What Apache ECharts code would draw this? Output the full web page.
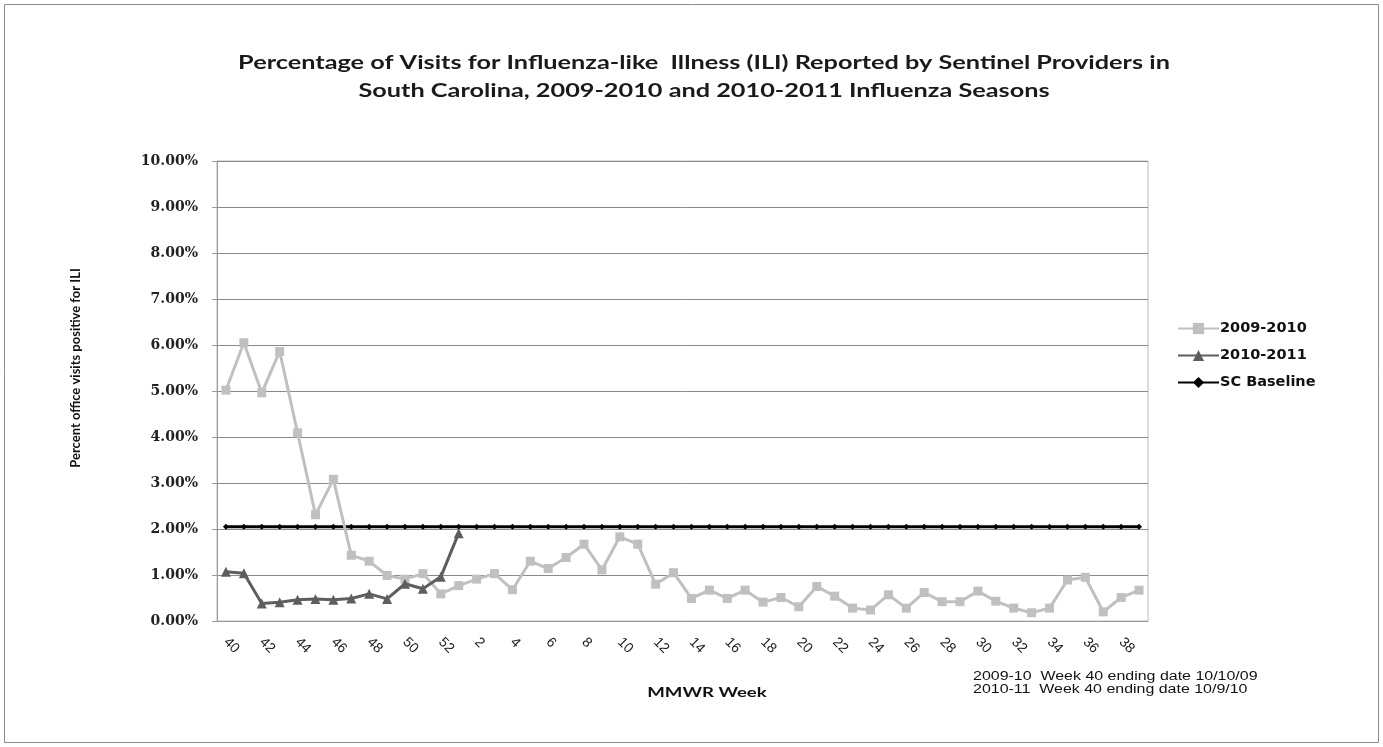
<!DOCTYPE html>
<html>
<head>
<meta charset="utf-8">
<script src="https://cdn.jsdelivr.net/npm/echarts@6/dist/echarts.min.js"></script>
<style>
html,body{margin:0;padding:0;background:#fff;}
#chart{width:1383px;height:747px;}
</style>
</head>
<body>
<div id="chart"></div>
<script>
const weeks = ['40','41','42','43','44','45','46','47','48','49','50','51','52',
  '1','2','3','4','5','6','7','8','9','10','11','12','13','14','15','16','17','18','19','20',
  '21','22','23','24','25','26','27','28','29','30','31','32','33','34','35','36','37','38','39'];
const season0910 = [5.02,6.05,4.96,5.86,4.09,2.31,3.08,1.43,1.30,0.99,0.91,1.03,0.59,
  0.77,0.91,1.03,0.68,1.30,1.14,1.38,1.67,1.11,1.83,1.67,0.80,1.05,0.49,0.67,0.49,0.67,0.41,0.51,0.31,
  0.75,0.54,0.28,0.24,0.57,0.28,0.62,0.42,0.42,0.65,0.43,0.28,0.18,0.28,0.89,0.95,0.20,0.51,0.67];
const season1011 = [1.07,1.04,0.38,0.41,0.46,0.48,0.46,0.49,0.59,0.48,0.81,0.70,0.96,1.91];
const scBaseline = [2.05,2.05,2.05,2.05,2.05,2.05,2.05,2.05,2.05,2.05,2.05,2.05,2.05,
  2.05,2.05,2.05,2.05,2.05,2.05,2.05,2.05,2.05,2.05,2.05,2.05,2.05,2.05,2.05,2.05,2.05,2.05,2.05,2.05,
  2.05,2.05,2.05,2.05,2.05,2.05,2.05,2.05,2.05,2.05,2.05,2.05,2.05,2.05,2.05,2.05,2.05,2.05,2.05];
const titleLines = ['Percentage of Visits for Influenza-like  Illness (ILI) Reported by Sentinel Providers in',
  'South Carolina, 2009-2010 and 2010-2011 Influenza Seasons'];
const noteLines = ['2009-10  Week 40 ending date 10/10/09', '2010-11  Week 40 ending date 10/9/10'];
const yAxisName = 'Percent office visits positive for ILI';
const xAxisName = 'MMWR Week';

const STRETCH = 1.33;
const chart = echarts.init(document.getElementById('chart'));
chart.setOption({
  animation: false,
  backgroundColor: '#fff',
  grid: {left: 217, right: 235, top: 161, bottom: 126, show: true, borderColor: '#bdbdbd', borderWidth: 1},
  legend: {
    orient: 'vertical', left: 1172, top: 316, itemWidth: 41, itemHeight: 14, itemGap: 12,
    textStyle: {fontFamily: 'DejaVu Sans', fontWeight: 'bold', fontSize: 14.5, color: '#111', padding: [0,0,0,-4]},
    data: ['2009-2010','2010-2011','SC Baseline']
  },
  xAxis: {
    type: 'category', data: weeks, boundaryGap: true,
    axisLine: {lineStyle: {color: '#9a9a9a', width: 1}},
    axisTick: {interval: 1, length: 5, lineStyle: {color: '#9a9a9a'}},
    axisLabel: {interval: 1, rotate: -45, margin: 19, fontFamily: 'Liberation Sans', fontSize: 14, color: '#222'},
    splitLine: {show: false}
  },
  yAxis: {
    type: 'value', min: 0, max: 10, interval: 1,
    axisLine: {show: true, lineStyle: {color: '#9a9a9a'}},
    axisTick: {show: true, length: 5, lineStyle: {color: '#9a9a9a'}},
    axisLabel: {formatter: v => v.toFixed(2) + '%', margin: 19, fontFamily: 'DejaVu Serif', fontWeight: 'bold', fontSize: 14, color: '#222'},
    splitLine: {lineStyle: {color: '#8a8a8a', width: 1}}
  },
  series: [
    {name: '2009-2010', type: 'line', data: season0910, symbol: 'rect', symbolSize: 9,
      lineStyle: {color: '#c0c0c0', width: 3}, itemStyle: {color: '#c0c0c0'}, z: 3},
    {name: '2010-2011', type: 'line', data: season1011, symbol: 'triangle', symbolSize: 10,
      lineStyle: {color: '#5e5e5e', width: 3}, itemStyle: {color: '#5e5e5e'}, z: 4},
    {name: 'SC Baseline', type: 'line', data: scBaseline, symbol: 'diamond', symbolSize: 6,
      lineStyle: {color: '#000', width: 3}, itemStyle: {color: '#000'}, z: 2}
  ],
  graphic: [
    {type: 'rect', shape: {x: 4.5, y: 4.5, width: 1374, height: 738}, style: {fill: 'none', stroke: '#8c8c8c', lineWidth: 1}, silent: true},
    {type: 'text', x: 704, y: 63, scaleX: STRETCH,
      style: {text: titleLines[0], fontFamily: 'Lato', fontWeight: 'bold', fontSize: 19, fill: '#1a1a1a', align: 'center', verticalAlign: 'middle'}},
    {type: 'text', x: 704, y: 91, scaleX: STRETCH,
      style: {text: titleLines[1], fontFamily: 'Lato', fontWeight: 'bold', fontSize: 19, fill: '#1a1a1a', align: 'center', verticalAlign: 'middle'}},
    {type: 'text', x: 76, y: 368, rotation: Math.PI / 2,
      style: {text: yAxisName, fontFamily: 'Lato', fontWeight: 'bold', fontSize: 13, fill: '#111', align: 'center', verticalAlign: 'middle'}},
    {type: 'text', x: 707, y: 692, scaleX: STRETCH,
      style: {text: xAxisName, fontFamily: 'Lato', fontWeight: 'bold', fontSize: 14, fill: '#111', align: 'center', verticalAlign: 'middle'}},
    {type: 'text', x: 973, y: 670, scaleX: STRETCH,
      style: {text: noteLines.join('\n'), fontFamily: 'Liberation Sans', fontSize: 12, lineHeight: 13, fill: '#111', align: 'left', verticalAlign: 'top'}}
  ]
});
</script>
</body>
</html>
